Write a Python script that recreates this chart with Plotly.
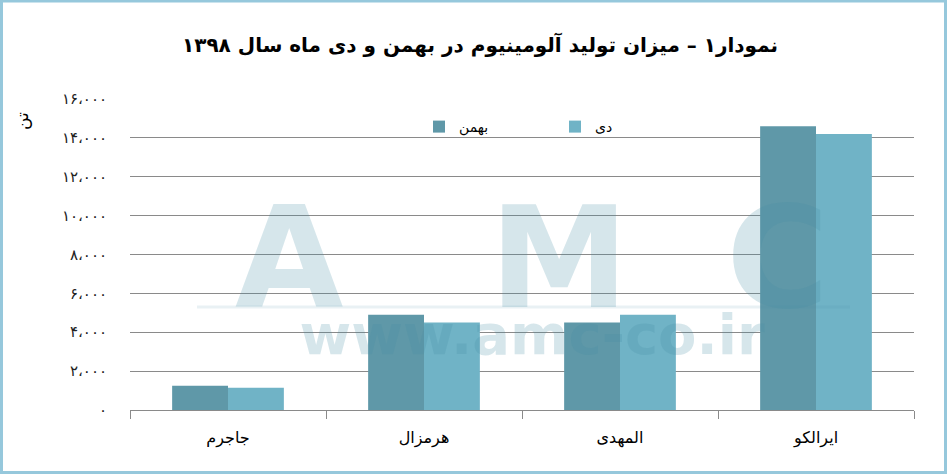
import plotly.graph_objects as go

# ---------------- data ----------------
categories = ["جاجرم", "هرمزال", "المهدی", "ایرالکو"]
bahman = [1250, 4900, 4500, 14600]
dey = [1150, 4500, 4900, 14200]
series_names = ["بهمن", "دی"]
y_tickvals = [0, 2000, 4000, 6000, 8000, 10000, 12000, 14000, 16000]
y_ticktext = ["۰", "۲،۰۰۰", "۴،۰۰۰", "۶،۰۰۰", "۸،۰۰۰", "۱۰،۰۰۰", "۱۲،۰۰۰", "۱۴،۰۰۰", "۱۶،۰۰۰"]
title_text = "نمودار۱ – میزان تولید آلومینیوم در بهمن و دی ماه سال ۱۳۹۸"
unit_text = "تن"
watermark_letters = ["A", "M", "C"]
watermark_url = "www.amc-co.ir"

# ---------------- geometry helpers (pixels -> paper) ----------------
W, H = 947, 474
L, R, T, B = 130, 33, 98, 64
PW, PH = W - L - R, H - T - B


def px(x):
    return (x - L) / PW


def py(y):
    return (H - B - y) / PH


FONT = "DejaVu Sans"
C_BAHMAN = "#5f98a8"
C_DEY = "#70b3c6"

fig = go.Figure()
fig.add_trace(go.Bar(x=categories, y=bahman, name=series_names[0],
                     marker=dict(color=C_BAHMAN, line=dict(width=0))))
fig.add_trace(go.Bar(x=categories, y=dey, name=series_names[1],
                     marker=dict(color=C_DEY, line=dict(width=0))))

annotations = []
# title
annotations.append(dict(text="<b>" + title_text + "</b>", xref="paper", yref="paper",
                        x=px(480), y=py(45), showarrow=False,
                        font=dict(family=FONT, size=20, color="#000000"),
                        xanchor="center", yanchor="middle"))
# unit label
annotations.append(dict(text=unit_text, xref="paper", yref="paper",
                        x=px(22), y=py(121), showarrow=False, textangle=-90,
                        font=dict(family=FONT, size=17, color="#000000"),
                        xanchor="center", yanchor="middle"))
# watermark (one text block: big letters + url)
wm_color = "rgba(70,140,165,0.22)"
nb = "\u00a0"
big_line = (nb * 3).join(watermark_letters[:2]) + nb * 2 + watermark_letters[2]
wm_text = ("<b><span style='font-size:140px'>" + big_line + "</span><br>"
           "<span style='font-size:56px'>" + watermark_url + "</span></b>")
annotations.append(dict(text=wm_text, xref="paper", yref="paper",
                        x=px(532), y=py(272), showarrow=False,
                        font=dict(family=FONT, size=36, color=wm_color),
                        xanchor="center", yanchor="middle", align="center"))

shapes = [
    # watermark underline
    dict(type="line", xref="paper", yref="paper", x0=px(197), x1=px(850),
         y0=py(307), y1=py(307), line=dict(color="rgba(70,140,165,0.12)", width=3)),
    # outer frame
    dict(type="rect", xref="paper", yref="paper", x0=px(1.5), x1=px(945.5),
         y0=py(472.5), y1=py(1.0), line=dict(color="#96c8dc", width=3),
         fillcolor="rgba(0,0,0,0)", layer="above"),
]

fig.update_layout(
    width=W, height=H,
    margin=dict(l=L, r=R, t=T, b=B),
    paper_bgcolor="white", plot_bgcolor="white",
    barmode="group", bargap=0.43, bargroupgap=0,
    font=dict(family=FONT, color="#000000"),
    showlegend=True,
    legend=dict(orientation="h", x=px(419), y=py(127), xanchor="left", yanchor="middle",
                font=dict(family=FONT, size=14, color="#000000"),
                bgcolor="rgba(0,0,0,0)", itemwidth=30, entrywidth=91,
                itemclick=False),
    xaxis=dict(showgrid=False, showline=True, linecolor="#8a8a8a", linewidth=1,
               ticks="outside", tickson="boundaries", ticklen=8, tickcolor="#8a8a8a",
               tickfont=dict(family=FONT, size=16, color="#000000"),
               ticklabelstandoff=13, fixedrange=True),
    yaxis=dict(range=[0, 16050], tickvals=y_tickvals, ticktext=y_ticktext,
               showgrid=True, gridcolor="#8a8a8a", gridwidth=1, zeroline=False,
               showline=False, ticks="", tickfont=dict(family=FONT, size=15, color="#222222"),
               ticklabelstandoff=22, fixedrange=True),
    annotations=annotations,
    shapes=shapes,
)

fig.write_html("out.html", config={"displayModeBar": False},
               post_script="document.body.style.margin='0';")
